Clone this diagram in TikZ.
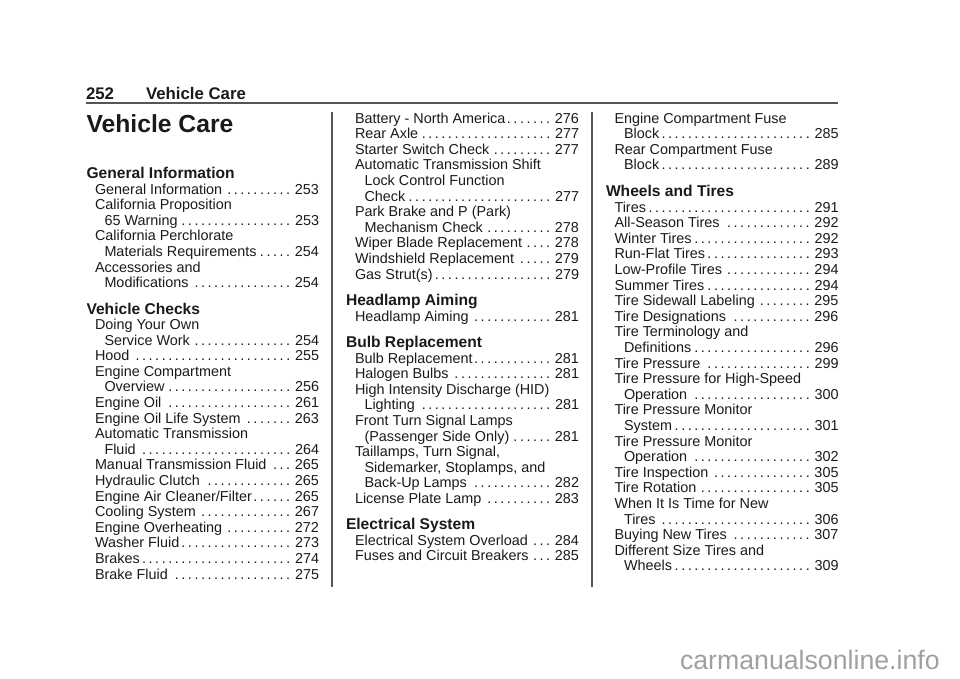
\documentclass[tikz,border=0pt]{standalone}
\usepackage{fontspec}
\setmainfont{Liberation Sans}
\definecolor{inkblack}{HTML}{1A1A1A}
\definecolor{rulegray}{HTML}{555555}
\definecolor{markgray}{HTML}{A0A0A0}
\tikzset{
  pagetext/.style={anchor=base west,inner sep=0pt,outer sep=0pt,text=inkblack},
  tocentry/.style={pagetext,font=\fontsize{14.4}{15.6}\selectfont},
  tochead/.style={pagetext,font=\fontsize{15.6}{17}\selectfont\bfseries},
  pagerule/.style={draw=rulegray,line width=1.1pt}
}
% one run of rows: name, left x, width, first baseline, rows
\newcommand{\tocblock}[5]{%
  \foreach \ind/\txt/\pg [count=\i from 0] in {#5} {
    \pgfmathsetmacro{\rowy}{#4+15.6*\i}
    \ifx\pg\empty
      \node[tocentry] (#1\i) at (#2,\rowy) {\hbox{\hskip\ind pt\txt}};
    \else
      \node[tocentry] (#1\i) at (#2,\rowy) {\hbox to #3pt{\hskip\ind pt\txt\leaders\hbox to 6.55pt{\hss.\hss}\hfill\hskip 2pt\pg}};
    \fi
  }%
}
\begin{document}
\begin{tikzpicture}[x=1pt,y=-1pt]
\useasboundingbox (0,0) rectangle (960,678);

% page header
\node[pagetext,font=\fontsize{16.8}{18}\selectfont\bfseries] (pagenum) at (86,99) {252};
\node[pagetext,font=\fontsize{16.8}{18}\selectfont\bfseries] (headtitle) at (146,99) {Vehicle Care};
\coordinate (headL) at (86,103);
\coordinate (headR) at (838,103);
\draw[pagerule] (headL) -- (headR);
\node[pagetext,font=\fontsize{24.7}{28}\selectfont\bfseries] (title) at (86.5,132) {Vehicle Care};

% column rules
\coordinate (sepAtop) at (332,112);
\coordinate (sepAbot) at (332,587);
\coordinate (sepBtop) at (592,112);
\coordinate (sepBbot) at (592,587);
\draw[pagerule] (sepAtop) -- (sepAbot);
\draw[pagerule] (sepBtop) -- (sepBbot);

% first column
\node[tochead] (headGeneral) at (86.5,178) {General Information};
\tocblock{gen}{95}{224}{194}{
  0/General Information/253,
  0/California Proposition/,
  9.5/65 Warning/253,
  0/California Perchlorate/,
  9.5/Materials Requirements/254,
  0/Accessories and/,
  9.5/Modifications/254}
\node[tochead] (headChecks) at (86.5,314) {Vehicle Checks};
\tocblock{chk}{95}{224}{329.5}{
  0/Doing Your Own/,
  9.5/Service Work/254,
  0/Hood/255,
  0/Engine Compartment/,
  9.5/Overview/256,
  0/Engine Oil/261,
  0/Engine Oil Life System/263,
  0/Automatic Transmission/,
  9.5/Fluid/264,
  0/Manual Transmission Fluid/265,
  0/Hydraulic Clutch/265,
  0/{Engine Air Cleaner/Filter}/265,
  0/Cooling System/267,
  0/Engine Overheating/272,
  0/Washer Fluid/273,
  0/Brakes/274,
  0/Brake Fluid/275}

% second column
\tocblock{bat}{355}{224}{123}{
  0/Battery - North America/276,
  0/Rear Axle/277,
  0/Starter Switch Check/277,
  0/Automatic Transmission Shift/,
  9.5/Lock Control Function/,
  9.5/Check/277,
  0/Park Brake and P (Park)/,
  9.5/Mechanism Check/278,
  0/Wiper Blade Replacement/278,
  0/Windshield Replacement/279,
  0/Gas Strut(s)/279}
\node[tochead] (headAiming) at (346,305) {Headlamp Aiming};
\tocblock{aim}{355}{224}{321}{
  0/Headlamp Aiming/281}
\node[tochead] (headBulb) at (346,347) {Bulb Replacement};
\tocblock{blb}{355}{224}{363}{
  0/Bulb Replacement/281,
  0/Halogen Bulbs/281,
  0/High Intensity Discharge (HID)/,
  9.5/Lighting/281,
  0/Front Turn Signal Lamps/,
  9.5/(Passenger Side Only)/281,
  0/{Taillamps, Turn Signal,}/,
  9.5/{Sidemarker, Stoplamps, and}/,
  9.5/Back-Up Lamps/282,
  0/License Plate Lamp/283}
\node[tochead] (headElec) at (346,529) {Electrical System};
\tocblock{elc}{355}{224}{545}{
  0/Electrical System Overload/284,
  0/Fuses and Circuit Breakers/285}

% third column
\tocblock{fus}{614.5}{224}{123}{
  0/Engine Compartment Fuse/,
  9.5/Block/285,
  0/Rear Compartment Fuse/,
  9.5/Block/289}
\node[tochead] (headWheels) at (606,196) {Wheels and Tires};
\tocblock{tir}{614.5}{224}{212}{
  0/Tires/291,
  0/All-Season Tires/292,
  0/Winter Tires/292,
  0/Run-Flat Tires/293,
  0/Low-Profile Tires/294,
  0/Summer Tires/294,
  0/Tire Sidewall Labeling/295,
  0/Tire Designations/296,
  0/Tire Terminology and/,
  9.5/Definitions/296,
  0/Tire Pressure/299,
  0/Tire Pressure for High-Speed/,
  9.5/Operation/300,
  0/Tire Pressure Monitor/,
  9.5/System/301,
  0/Tire Pressure Monitor/,
  9.5/Operation/302,
  0/Tire Inspection/305,
  0/Tire Rotation/305,
  0/When It Is Time for New/,
  9.5/Tires/306,
  0/Buying New Tires/307,
  0/Different Size Tires and/,
  9.5/Wheels/309}

% site mark
\node[pagetext,text=markgray,font=\fontsize{26.7}{28}\selectfont] (sitemark) at (680,669) {carmanualsonline.info};
\end{tikzpicture}
\end{document}
